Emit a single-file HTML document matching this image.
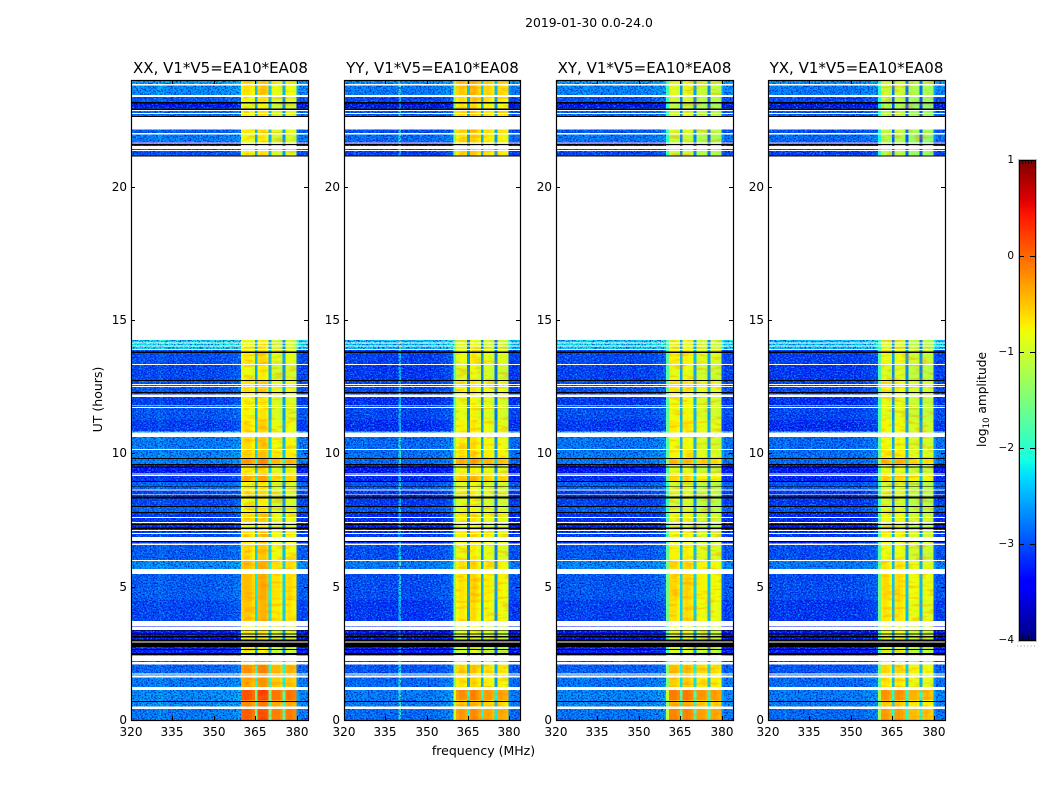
<!DOCTYPE html>
<html lang="en">
<head>
<meta charset="utf-8">
<title>2019-01-30 0.0-24.0</title>
<style>
html,body{margin:0;padding:0;background:#fff;width:1050px;height:800px;overflow:hidden}
svg{display:block}
text{font-family:"DejaVu Sans","Liberation Sans",sans-serif;fill:#000}
.tk{font-size:12px}
.cbt{font-size:10.5px}
.ttl{font-size:15px}
</style>
</head>
<body>
<svg id="fig" xmlns="http://www.w3.org/2000/svg" width="1050" height="800" viewBox="0 0 1050 800">
  <defs>
    <linearGradient id="jetGrad" x1="0" y1="1" x2="0" y2="0"></linearGradient>
    <filter id="speckLight" filterUnits="userSpaceOnUse" x="0" y="0" width="1050" height="800" color-interpolation-filters="sRGB">
      <feTurbulence type="fractalNoise" baseFrequency="0.55 0.7" numOctaves="2" seed="7" result="n"/>
      <feColorMatrix in="n" type="matrix" values="0 0 0 0 0.05  0 0 0 0 0.72  0 0 0 0 1  4.5 0 0 0 -2.1" result="c"/>
      <feComposite in="c" in2="SourceAlpha" operator="in"/>
    </filter>
    <filter id="speckDark" filterUnits="userSpaceOnUse" x="0" y="0" width="1050" height="800" color-interpolation-filters="sRGB">
      <feTurbulence type="fractalNoise" baseFrequency="0.6 0.65" numOctaves="2" seed="23" result="n"/>
      <feColorMatrix in="n" type="matrix" values="0 0 0 0 0  0 0 0 0 0.05  0 0 0 0 0.72  0 4.5 0 0 -2.1" result="c"/>
      <feComposite in="c" in2="SourceAlpha" operator="in"/>
    </filter>
    <filter id="blotch" filterUnits="userSpaceOnUse" x="0" y="0" width="1050" height="800" color-interpolation-filters="sRGB">
      <feTurbulence type="fractalNoise" baseFrequency="0.07 0.28" numOctaves="2" seed="11" result="n"/>
      <feColorMatrix in="n" type="matrix" values="0 0 0 0 1  0 0 0 0 0.5  0 0 0 0 0  5 0 0 0 -2.5" result="c"/>
      <feComposite in="c" in2="SourceAlpha" operator="in"/>
    </filter>
  </defs>
  <text x="589" y="27" text-anchor="middle" style="font-size:12.4px">2019-01-30 0.0-24.0</text>
  <g id="panels"></g>
  <text class="ttl" x="220.5" y="73" text-anchor="middle">XX, V1*V5=EA10*EA08</text>
  <text class="ttl" x="432.5" y="73" text-anchor="middle">YY, V1*V5=EA10*EA08</text>
  <text class="ttl" x="644.5" y="73" text-anchor="middle">XY, V1*V5=EA10*EA08</text>
  <text class="ttl" x="856.5" y="73" text-anchor="middle">YX, V1*V5=EA10*EA08</text>
  <text transform="translate(102,399.5) rotate(-90)" text-anchor="middle" style="font-size:12.5px">UT (hours)</text>
  <text x="483.5" y="755" text-anchor="middle" style="font-size:12.5px">frequency (MHz)</text>
  <g id="colorbar"></g>
  <text transform="translate(986,399.5) rotate(-90)" text-anchor="middle" style="font-size:12.2px">log<tspan dy="3" style="font-size:8.5px">10</tspan><tspan dy="-3"> amplitude</tspan></text>
</svg>
<script>
// ---- Chart data ----
const xTickValues = [320, 335, 350, 365, 380];
const yTickValues = [0, 5, 10, 15, 20];
const colorbarTicks = [1, 0, -1, -2, -3, -4];
const colorbarTickLabels = ['1', '0', '\u22121', '\u22122', '\u22123', '\u22124'];
const colorbarMinorTicks = [-3.98, -3.96, -3.94, -3.92, 0.92, 0.94, 0.96, 0.98];

// Frequency channels (MHz)
const channels = [320,321,322,323,324,325,326,327,328,329,330,331,332,333,334,335,336,337,338,339,340,341,342,343,344,345,346,347,348,349,350,351,352,353,354,355,356,357,358,359,360,361,362,363,364,365,366,367,368,369,370,371,372,373,374,375,376,377,378,379,380,381,382,383,384];
const bandEdges = [360, 380];

// Typical log10 amplitude per channel, one spectrum per polarisation
const spectrumXX = [-2.95,-3.05,-3.05,-3.0,-3.0,-3.05,-2.95,-3.0,-3.05,-3.0,-2.9,-2.95,-3.0,-3.0,-3.05,-3.05,-3.0,-3.0,-3.05,-3.05,-3.0,-3.05,-3.05,-3.0,-3.05,-3.0,-3.0,-3.05,-3.05,-3.0,-3.0,-3.0,-2.95,-3.0,-3.0,-2.95,-2.95,-2.9,-2.9,-2.8,-0.85,-0.8,-0.8,-0.85,-0.95,-2.55,-0.75,-0.7,-0.7,-0.8,-2.5,-1.0,-1.0,-1.0,-1.1,-2.65,-1.0,-0.95,-1.0,-1.05,-2.95,-3.05,-3.05,-3.0,-2.95];
const spectrumYY = [-3.05,-3.15,-3.15,-3.1,-3.1,-3.15,-3.1,-3.05,-3.1,-3.15,-3.1,-3.1,-3.15,-3.15,-3.15,-3.15,-3.05,-3.15,-3.15,-3.15,-2.3,-3.15,-3.15,-3.1,-3.15,-3.15,-3.15,-3.1,-3.15,-3.15,-3.1,-3.15,-3.1,-3.1,-3.1,-3.05,-3.05,-3.0,-3.0,-2.85,-1.7,-1.0,-0.9,-0.9,-1.0,-2.8,-0.85,-0.8,-0.9,-1.0,-2.75,-1.0,-0.95,-1.0,-1.1,-2.85,-1.0,-1.0,-1.05,-1.1,-3.05,-3.15,-3.15,-3.1,-3.0];
const spectrumXY = [-3.0,-3.05,-3.1,-3.05,-3.05,-3.05,-3.05,-3.0,-3.05,-3.05,-3.0,-3.0,-3.05,-3.05,-3.1,-3.05,-3.05,-3.05,-3.1,-3.1,-3.05,-3.05,-3.1,-3.05,-3.05,-3.05,-3.05,-3.1,-3.1,-3.05,-3.05,-3.05,-3.05,-3.05,-3.05,-3.0,-3.0,-2.95,-2.95,-2.85,-1.8,-0.85,-0.85,-0.85,-0.95,-2.55,-0.85,-0.8,-0.85,-0.95,-2.55,-1.0,-1.0,-1.0,-1.1,-2.65,-1.05,-1.0,-1.05,-1.1,-2.95,-3.1,-3.05,-3.0,-3.0];
const spectrumYX = [-3.05,-3.15,-3.15,-3.1,-3.1,-3.15,-3.05,-3.1,-3.15,-3.1,-3.1,-3.15,-3.15,-3.15,-3.15,-3.15,-3.1,-3.15,-3.15,-3.15,-3.1,-3.15,-3.15,-3.15,-3.15,-3.1,-3.15,-3.15,-3.15,-3.15,-3.1,-3.15,-3.1,-3.15,-3.1,-3.05,-3.05,-3.05,-3.0,-2.95,-1.8,-0.85,-0.8,-0.85,-0.95,-2.6,-0.85,-0.8,-0.85,-0.95,-2.6,-1.0,-1.0,-1.0,-1.1,-2.65,-1.05,-1.0,-1.05,-1.1,-2.95,-3.1,-3.1,-3.05,-2.95];

// Time blocks: boundaries in UT hours (top to bottom), then gain per block
const blockHours = [24,23.81,23.44,23.14,22.95,22.61,22.01,21.68,21.45,21.11,14.25,13.88,13.35,12.75,12.3,11.78,11.25,10.84,10.61,10.05,9.83,9.6,9.26,8.96,8.66,8.4,8.03,7.76,7.43,7.05,6.86,6.56,6.0,5.66,5.48,4.5,3.71,3.26,2.93,2.51,2.4,2.06,1.76,1.24,0.75,0.41,0];
const blockOffBand = [.55,.4,.05,-.45,.2,.1,.3,-.4,0,0,.85,0,-.05,.05,-.1,.05,-.1,.6,.3,.35,.3,-.35,-.15,.15,-.05,-.05,.15,-.15,-.25,-.05,-.15,.1,.4,0,.1,-.05,-.35,-.45,-.3,-.05,.05,.15,.3,.4,.4,.3];
const blockInBand = [.15,.1,0,-.1,0,.05,-.05,-.1,0,0,-.05,.05,-.05,.1,0,0,.1,.05,.15,.2,.5,.05,.35,-.05,.05,-.05,0,.1,-.05,.15,.1,.05,.2,0,.15,.1,0,-.05,-.1,.05,0,.3,.2,.65,.35,.6];

// Per-polarisation band gain in coarse eras (hours)
const eraEdges = [0,2.4,3.7,5.5,6.6,10.7,14.3,21.2,24];
const bandGainXX = [.28,.05,.2,.15,.05,.05,.05,.05];
const bandGainYY = [.05,0,.1,.05,.05,.05,.15,.3];
const bandGainXY = [.1,0,.1,.05,-.1,.05,-.05,-.15];
const bandGainYX = [-.05,0,.05,-.05,-.1,-.05,-.15,-.3];

// Time ranges with no data (hours: upper, lower)
const gapUpper = [23.85,23.44,22.88,22.77,22.62,22.02,21.66,21.53,21.38,21.13,14.15,14.04,13.92,13.35,12.6,12.53,12.21,11.8,11.74,10.79,10.16,9.27,9.2,8.65,8.46,7.61,7.43,7.13,7.02,6.87,6.61,6.0,5.66,3.72,3.48,2.95,2.42,2.18,1.75,1.66,1.23,0.5];
const gapLower = [23.8,23.36,22.83,22.73,22.15,21.96,21.61,21.42,21.34,14.25,14.11,14.0,13.88,13.31,12.56,12.49,12.12,11.77,11.7,10.61,10.13,9.24,9.15,8.61,8.43,7.58,7.39,7.09,6.98,6.71,6.56,5.96,5.48,3.51,3.38,2.89,2.21,2.08,1.7,1.6,1.13,0.42];

// Flagged time ranges drawn black (hours: upper, lower)
const flagUpper = [23.18,22.94,22.65,21.6,21.17,13.82,12.75,12.3,9.83,9.6,9.5,8.96,8.75,8.38,8.03,7.8,7.35,7.21,6.71,3.38,3.25,3.15,3.02,2.91,2.67,2.51,0.71];
const flagLower = [23.12,22.88,22.62,21.56,21.13,13.77,12.71,12.26,9.79,9.56,9.46,8.93,8.73,8.31,7.99,7.76,7.31,7.17,6.68,3.35,3.2,3.1,2.95,2.74,2.63,2.44,0.68];

// Jet colormap control points (position, value)
const jetRedPos = [0,.35,.66,.89,1];
const jetRedVal = [0,0,1,1,.5];
const jetGreenPos = [0,.125,.375,.64,.91,1];
const jetGreenVal = [0,0,1,1,0,0];
const jetBluePos = [0,.11,.34,.65,1];
const jetBlueVal = [.5,1,1,0,0];

// ---- Layout ----
const NS = 'http://www.w3.org/2000/svg';
const panelLefts = [131, 344, 556, 768];
const panelRights = [308, 520, 733, 945];
const plotTop = 80, plotBottom = 720;
const xMin = 320, xMax = 384, yMin = 0, yMax = 24;
const cbLeft = 1019, cbRight = 1035, cbTop = 160, cbBottom = 640, vMin = -4, vMax = 1;

const spectra = [spectrumXX, spectrumYY, spectrumXY, spectrumYX];
const gains = [bandGainXX, bandGainYY, bandGainXY, bandGainYX];
const panelKeys = ['xx', 'yy', 'xy', 'yx'];

function mk(parent, tag, attrs) {
  const el = document.createElementNS(NS, tag);
  for (const k in attrs) el.setAttribute(k, attrs[k]);
  parent.appendChild(el);
  return el;
}
function yScale(h) { return plotBottom - (h - yMin) / (yMax - yMin) * (plotBottom - plotTop); }
function interp(pos, val, t) {
  for (let i = 1; i < pos.length; i++) {
    if (t <= pos[i]) return val[i - 1] + (val[i] - val[i - 1]) * (t - pos[i - 1]) / (pos[i] - pos[i - 1]);
  }
  return val[val.length - 1];
}
function jet(t) {
  t = Math.max(0, Math.min(1, t));
  const r = Math.round(255 * interp(jetRedPos, jetRedVal, t));
  const g = Math.round(255 * interp(jetGreenPos, jetGreenVal, t));
  const b = Math.round(255 * interp(jetBluePos, jetBlueVal, t));
  return 'rgb(' + r + ',' + g + ',' + b + ')';
}
function colorOf(v) { return jet((v - vMin) / (vMax - vMin)); }
function cbScale(v) { return cbBottom - (v - vMin) / (vMax - vMin) * (cbBottom - cbTop); }
function eraIndex(h) {
  for (let i = eraEdges.length - 2; i >= 0; i--) if (h >= eraEdges[i]) return i;
  return 0;
}

// ---- Panels ----
const panelsRoot = document.getElementById('panels');
panelLefts.forEach(function (left, p) {
  const panelWidth = panelRights[p] - left;
  const xScale = function (f) { return left + (f - xMin) / (xMax - xMin) * panelWidth; };
  const g = mk(panelsRoot, 'g', {});
  
  
  const clipId = 'clip' + p;
  const clip = mk(document.querySelector('defs'), 'clipPath', { id: clipId });
  mk(clip, 'rect', { x: left, y: plotTop, width: panelWidth, height: plotBottom - plotTop });
  const heat = mk(g, 'g', { 'clip-path': 'url(#' + clipId + ')', 'shape-rendering': 'crispEdges' });
  
  

  const spectrum = spectra[p];
  const gain = gains[p];
  for (let b = 0; b < blockOffBand.length; b++) {
    const upper = blockHours[b], lower = blockHours[b + 1];
    if (upper - lower > 5) continue;
    const y0 = yScale(upper), y1 = yScale(lower);
    const era = eraIndex((upper + lower) / 2);
    channels.forEach(function (f, c) {
      const inBand = f >= bandEdges[0] && f < bandEdges[1];
      const v = spectrum[c] + (inBand ? blockInBand[b] + gain[era] : blockOffBand[b]);
      const x0 = xScale(f - 0.2), x1 = xScale(f + 0.8);
      const cell = mk(heat, 'rect', { x: x0.toFixed(2), y: y0.toFixed(2), width: (x1 - x0).toFixed(2), height: (y1 - y0).toFixed(2), fill: colorOf(v) });
      
      
    });
  }
  // Fine speckle over the background channels, soft blotches inside the band
  [[left, xScale(bandEdges[0] - 0.2)], [xScale(bandEdges[1] + 0.6), left + panelWidth]].forEach(function (range) {
    const light = mk(heat, 'rect', { x: range[0], y: plotTop, width: range[1] - range[0], height: plotBottom - plotTop, fill: '#fff', filter: 'url(#speckLight)', opacity: 0.75 });
    
    
    const dark = mk(heat, 'rect', { x: range[0], y: plotTop, width: range[1] - range[0], height: plotBottom - plotTop, fill: '#fff', filter: 'url(#speckDark)', opacity: 0.75 });
    
    
  });
  const blot = mk(heat, 'rect', { x: xScale(bandEdges[0] + 0.8), y: plotTop, width: xScale(bandEdges[1] - 0.2) - xScale(bandEdges[0] + 0.8), height: plotBottom - plotTop, fill: '#fff', filter: 'url(#blotch)', opacity: 0.3 });
  
  

  gapUpper.forEach(function (h, i) {
    const r = mk(heat, 'rect', { x: left, y: yScale(h).toFixed(2), width: panelWidth, height: (yScale(gapLower[i]) - yScale(h)).toFixed(2), fill: '#fff' });
    
    
  });
  flagUpper.forEach(function (h, i) {
    const r = mk(heat, 'rect', { x: left, y: yScale(h).toFixed(2), width: panelWidth, height: (yScale(flagLower[i]) - yScale(h)).toFixed(2), fill: '#000' });
    
    
  });

  const frame = mk(g, 'rect', { x: left + 0.5, y: plotTop + 0.5, width: panelWidth, height: plotBottom - plotTop, fill: 'none', stroke: '#000', 'stroke-width': 1.2 });
  
  

  xTickValues.forEach(function (t) {
    const x = Math.round(xScale(t)) + 0.5;
    const tb = mk(g, 'line', { x1: x, x2: x, y1: plotBottom, y2: plotBottom - 4, stroke: '#000' });
    
    
    const tt = mk(g, 'line', { x1: x, x2: x, y1: plotTop, y2: plotTop + 4, stroke: '#000' });
    
    
    const lb = mk(g, 'text', { class: 'tk', x: x - 0.5, y: 736, 'text-anchor': 'middle' });
    
    
    lb.textContent = String(t);
  });
  yTickValues.forEach(function (t) {
    const y = Math.round(yScale(t)) + 0.5;
    const tl = mk(g, 'line', { x1: left, x2: left + 4, y1: y, y2: y, stroke: '#000' });
    
    
    const tr = mk(g, 'line', { x1: left + panelWidth, x2: left + panelWidth - 4, y1: y, y2: y, stroke: '#000' });
    
    
    const lb = mk(g, 'text', { class: 'tk', x: left - 4, y: y + 3.5, 'text-anchor': 'end' });
    
    
    lb.textContent = String(t);
  });
});

// ---- Colorbar ----
const grad = document.getElementById('jetGrad');
for (let i = 0; i <= 64; i++) {
  mk(grad, 'stop', { offset: (i / 64).toFixed(4), 'stop-color': jet(i / 64) });
}
const cb = document.getElementById('colorbar');
const cbRect = mk(cb, 'rect', { x: cbLeft + 0.5, y: cbTop + 0.5, width: cbRight - cbLeft, height: cbBottom - cbTop, fill: 'url(#jetGrad)', stroke: '#000', 'stroke-width': 1 });


const cbHalo = mk(cb, 'rect', { x: cbLeft - 0.5, y: cbTop - 0.5, width: cbRight - cbLeft + 2, height: cbBottom - cbTop + 2, fill: 'none', stroke: '#bbb', 'stroke-width': 1 });


colorbarTicks.forEach(function (t, i) {
  const y = Math.round(cbScale(t)) + 0.5;
  const a = mk(cb, 'line', { x1: cbLeft, x2: cbLeft + 5, y1: y, y2: y, stroke: '#000' });
  
  
  const c = mk(cb, 'line', { x1: cbRight, x2: cbRight - 5, y1: y, y2: y, stroke: '#000' });
  
  
  const lb = mk(cb, 'text', { class: 'cbt', x: cbLeft - 5, y: y + 2.5, 'text-anchor': 'end' });
  
  
  lb.textContent = colorbarTickLabels[i];
});
colorbarMinorTicks.forEach(function (t, i) {
  const yA = t > 0 ? cbTop : cbBottom - 4;
  const x = cbLeft + 3 + (i % 4) * 3;
  const m = mk(cb, 'line', { x1: x + 0.5, x2: x + 0.5, y1: yA, y2: yA + 4, stroke: '#000', 'stroke-width': 0.8 });
  
  
});
for (let i = 0; i < 6; i++) {
  const d = mk(cb, 'rect', { x: 1017 + i * 3.4, y: 645.5, width: 1, height: 1, fill: '#999' });
  
  
}
</script>
</body>
</html>
